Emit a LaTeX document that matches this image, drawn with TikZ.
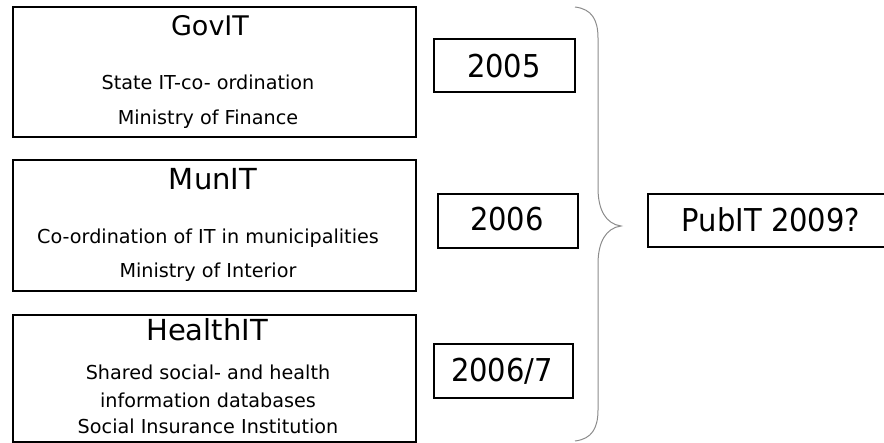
\documentclass[tikz,border=0pt]{standalone}
\usepackage{fontspec}
\setmainfont{DejaVu Sans}
\newfontfamily\yearfont{DejaVu Sans}[FakeStretch=0.92]
\begin{document}
\begin{tikzpicture}[x=1pt,y=-1pt,
  frame/.style={draw=black,line width=2pt,anchor=north west,inner sep=0pt},
  title/.style={anchor=base,inner sep=0pt,font=\fontsize{27}{30}\selectfont},
  sub/.style={anchor=base,inner sep=0pt,font=\fontsize{19.2}{22}\selectfont},
  year/.style={anchor=base,inner sep=0pt,font=\yearfont\fontsize{31.5}{34}\selectfont},
  bracelin/.style={draw=gray!90,line width=1pt}]
\useasboundingbox (0,0) rectangle (884,443);
\clip (0,0) rectangle (884,443);
% left boxes
\node[frame,minimum width=403pt,minimum height=130pt] (gov) at (12,6) {};
\node[frame,minimum width=403pt,minimum height=131pt] (mun) at (12,159) {};
\node[frame,minimum width=403pt,minimum height=127pt] (health) at (12,314) {};
\node[title] (govt) at (210,36) {GovIT};
\node[sub] (govs) at (208,90) {State IT-co- ordination};
\node[sub] (govm) at (208,125) {Ministry of Finance};
\node[title,font=\fontsize{29}{32}\selectfont] (munt) at (213,190) {MunIT};
\node[sub] (muns) at (208,244) {Co-ordination of IT in municipalities};
\node[sub] (munm) at (208,278) {Ministry of Interior};
\node[title,font=\fontsize{29}{32}\selectfont] (healtht) at (207,341) {HealthIT};
\node[sub] (healths1) at (208,380) {Shared social- and health};
\node[sub] (healths2) at (208,407.5) {information databases};
\node[sub] (healthm) at (208,434) {Social Insurance Institution};
% year boxes
\node[frame,minimum width=141pt,minimum height=53pt] (y1) at (433,38) {};
\node[frame,minimum width=140pt,minimum height=54pt] (y2) at (437,193) {};
\node[frame,minimum width=139pt,minimum height=54pt] (y3) at (433,343) {};
\node[year] (y1t) at (504,78) {2005};
\node[year] (y2t) at (507,231) {2006};
\node[year] (y3t) at (502,382) {2006/7};
% result box
\node[frame,minimum width=245pt,minimum height=53pt] (pub) at (647,193) {};
\node[year] (pubt) at (771,232) {PubIT 2009?};
% brace
\path[bracelin] (575,7) .. controls (592,9) and (598,20) .. (598,38)
  -- (598,188) .. controls (598,210) and (606,224) .. (621,226)
  .. controls (606,228) and (598,242) .. (598,264)
  -- (598,410) .. controls (598,428) and (592,439) .. (575,441);
\end{tikzpicture}
\end{document}
